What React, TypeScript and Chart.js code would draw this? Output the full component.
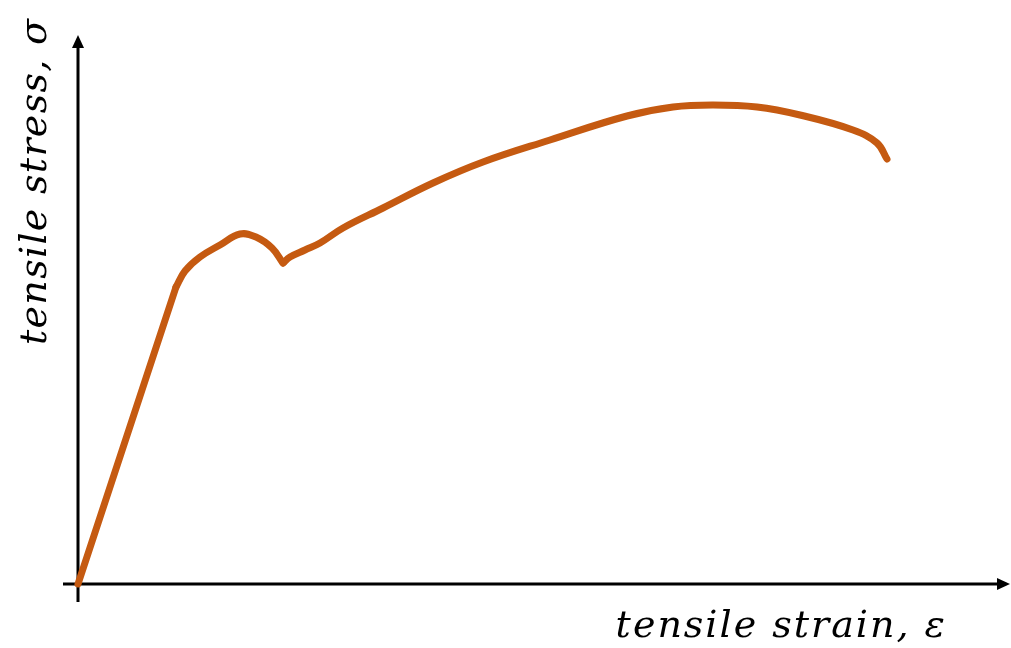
import React, { useEffect, useRef } from "react";
import { Chart, registerables } from "chart.js";

Chart.register(...registerables);

// Elastic (straight) part: strain / stress in arbitrary units
const elasticStrain = [0, 98];
const elasticStress = [0, 297];
// Yield hump, from the end of the elastic line to the dip
const yieldStrain = [98, 107, 122, 142, 162, 178, 194, 205];
const yieldStress = [297, 313, 327, 339, 350, 347, 336, 321];
// Strain hardening and necking
const hardeningStrain = [205, 212, 227, 242, 265, 305, 355, 405, 472, 549, 595, 635, 679, 722, 775, 799, 809];
const hardeningStress = [321, 327, 334, 341, 356, 376, 401, 422, 444, 468, 477, 479, 477, 469, 454, 441, 425];

const xLabel = "tensile strain, ε";
const yLabel = "tensile stress, σ";

const xRange = [-15, 932];
const yRange = [-18, 549];

const curveColor = "#C55A11";
const labelFont = "italic 38px 'DejaVu Serif'";

const axesPlugin = {
  id: "arrowAxes",
  beforeDatasetsDraw(chart: any) {
    const { ctx, chartArea, scales } = chart;
    const x0 = scales.x.getPixelForValue(0);
    const y0 = scales.y.getPixelForValue(0);
    ctx.save();
    ctx.strokeStyle = "#000";
    ctx.fillStyle = "#000";
    ctx.lineWidth = 3;
    ctx.beginPath();
    ctx.moveTo(x0, chartArea.bottom);
    ctx.lineTo(x0, chartArea.top + 10);
    ctx.stroke();
    ctx.beginPath();
    ctx.moveTo(x0, chartArea.top);
    ctx.lineTo(x0 - 6, chartArea.top + 13);
    ctx.lineTo(x0 + 6, chartArea.top + 13);
    ctx.closePath();
    ctx.fill();
    ctx.beginPath();
    ctx.moveTo(chartArea.left, y0);
    ctx.lineTo(chartArea.right - 10, y0);
    ctx.stroke();
    ctx.beginPath();
    ctx.moveTo(chartArea.right, y0);
    ctx.lineTo(chartArea.right - 13, y0 - 6);
    ctx.lineTo(chartArea.right - 13, y0 + 6);
    ctx.closePath();
    ctx.fill();
    ctx.restore();
  },
  afterDraw(chart: any) {
    const { ctx, chartArea, scales } = chart;
    const x0 = scales.x.getPixelForValue(0);
    const y0 = scales.y.getPixelForValue(0);
    ctx.save();
    ctx.fillStyle = "#000";
    ctx.font = labelFont;
    ctx.textBaseline = "alphabetic";
    ctx.textAlign = "right";
    (ctx as any).letterSpacing = "2px";
    ctx.fillText(xLabel, chartArea.right - 63, y0 + 53);
    (ctx as any).letterSpacing = "1.3px";
    ctx.translate(x0 - 32, y0 - 239);
    ctx.rotate(-Math.PI / 2);
    ctx.textAlign = "left";
    ctx.fillText(yLabel, 0, 0);
    ctx.restore();
  },
};

export default function App() {
  const ref = useRef<HTMLCanvasElement>(null);
  useEffect(() => {
    if (!ref.current) return;
    const common = {
      showLine: true,
      borderColor: curveColor,
      borderWidth: 7,
      borderCapStyle: "round",
      borderJoinStyle: "round",
      pointRadius: 0,
      clip: false,
    };
    const toPoints = (xs: number[], ys: number[]) => xs.map((x, i) => ({ x, y: ys[i] }));
    const chart = new Chart(ref.current, {
      type: "scatter",
      data: {
        datasets: [
          { ...common, data: toPoints(elasticStrain, elasticStress), tension: 0 } as any,
          { ...common, data: toPoints(yieldStrain, yieldStress), tension: 0.4 } as any,
          { ...common, data: toPoints(hardeningStrain, hardeningStress), tension: 0.4 } as any,
        ],
      },
      options: {
        animation: false,
        responsive: false,
        layout: { padding: { left: 63, right: 1, top: 35, bottom: 46 } },
        plugins: { legend: { display: false }, tooltip: { enabled: false } },
        scales: {
          x: { type: "linear", min: xRange[0], max: xRange[1], display: false },
          y: { type: "linear", min: yRange[0], max: yRange[1], display: false },
        },
      },
      plugins: [axesPlugin],
    });
    return () => chart.destroy();
  }, []);
  return (
    <div style={{ position: "fixed", left: 0, top: 0, width: 1011, height: 648, background: "#fff" }}>
      <canvas ref={ref} width={1011} height={648} />
    </div>
  );
}
